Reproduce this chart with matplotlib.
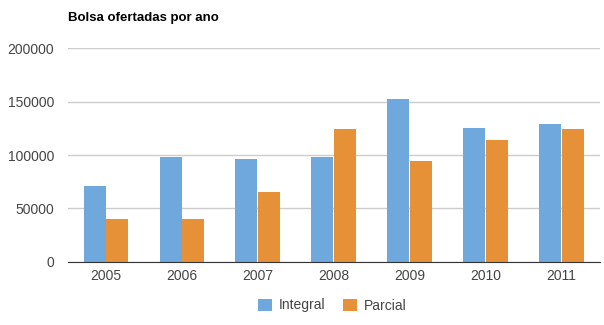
import matplotlib.pyplot as plt
import numpy as np

anos = ['2005', '2006', '2007', '2008', '2009', '2010', '2011']
integral = [71000, 98500, 96500, 98500, 152500, 125500, 129000]
parcial = [40000, 40000, 65500, 124500, 94000, 114500, 124500]
yticks = [0, 50000, 100000, 150000, 200000]

plt.rcParams['font.family'] = ['Liberation Sans', 'DejaVu Sans']

fig = plt.figure(figsize=(6.04, 3.25), dpi=100)
ax = fig.add_axes([0.1126, 0.194, 0.88, 0.658])

x = np.arange(len(anos))
w = 0.29
ax.bar(x - w / 2 - 0.005, integral, w, color='#6fa8dc', label='Integral', zorder=3)
ax.bar(x + w / 2 + 0.005, parcial, w, color='#e69138', label='Parcial', zorder=3)

ax.set_xlim(-0.5, len(anos) - 0.5)
ax.set_ylim(0, 200000)
ax.set_yticks(yticks)
ax.set_yticklabels([str(v) for v in yticks])
ax.set_xticks(x)
ax.set_xticklabels(anos)
ax.tick_params(axis='both', length=0, labelsize=10, colors='#444444')
ax.tick_params(axis='y', pad=10)
ax.tick_params(axis='x', pad=5)
ax.grid(axis='y', color='#cccccc', linewidth=1, zorder=0)
for s in ['top', 'right', 'left']:
    ax.spines[s].set_visible(False)
ax.spines['bottom'].set_color('#333333')
ax.spines['bottom'].set_zorder(4)

fig.text(0.1126, 0.925, 'Bolsa ofertadas por ano', fontsize=9.5, fontweight='bold',
         color='#000000', va='bottom')

fig.legend(loc='lower center', bbox_to_anchor=(0.55, 0.0), ncol=2, frameon=False,
           fontsize=10, handlelength=1.0, handleheight=1.0, columnspacing=1.3,
           handletextpad=0.5, labelcolor='#444444')

fig.savefig('out.png', dpi=100)
